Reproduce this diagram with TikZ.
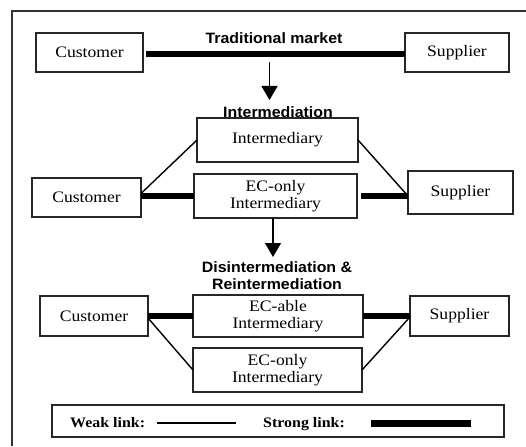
\documentclass[tikz,border=0pt]{standalone}
\usepackage{fontspec}
\setmainfont[FakeStretch=1.1]{Liberation Serif}
\newfontfamily\headfont[FakeStretch=1.06]{Liberation Sans}
\usetikzlibrary{arrows.meta}
\begin{document}
\begin{tikzpicture}[x=1pt,y=-1pt,
  box/.style={draw=black!85, line width=1.1pt, inner sep=0pt, outer sep=0pt,
    align=center, font=\fontsize{16}{17}\selectfont},
  head/.style={inner sep=0pt, align=center,
    font=\headfont\bfseries\fontsize{15}{16.5}\selectfont},
  legtext/.style={inner sep=0pt, font=\bfseries\fontsize{14.5}{16}\selectfont},
  weak/.style={line width=1.4pt},
  strong/.style={line width=5.5pt},
  flow/.style={line width=1.3pt, -{Triangle[width=16pt,length=14pt]}},
  frame/.style={draw=black!80, line width=1.3pt}]
\useasboundingbox (0,0) rectangle (526,446);

% outer frame (top and left edges)
\draw[frame] (12,446) -- (12,11) -- (526,11);

% --- traditional market ---
\node[box, minimum width=107pt, minimum height=39pt] (c1) at (89.5,52.5) {Customer};
\node[box, minimum width=104pt, minimum height=39pt] (s1) at (457,52.5) {Supplier};
\node[head] (hTrad) at (274,38) {Traditional market};
\draw[strong] ([xshift=3pt,yshift=-1.5pt]c1.east) -- ([yshift=-1.5pt]s1.west);

\coordinate (a1s) at (269.5,62);
\coordinate (a1e) at (269.5,100);
\draw[flow] (a1s) -- (a1e);

% --- intermediation ---
\node[head] (hInter) at (278,112) {Intermediation};
\node[box, minimum width=161pt, minimum height=44pt] (i2) at (277.5,140) {Intermediary};
\node[box, minimum width=109pt, minimum height=39pt] (c2) at (86.5,197.5) {Customer};
\node[box, minimum width=163pt, minimum height=44pt] (e2) at (275.5,196) {EC-only\\Intermediary};
\node[box, minimum width=105pt, minimum height=43pt] (s2) at (460.5,192.5) {Supplier};

\draw[weak] ([yshift=4pt]c2.east) -- (i2.west);
\draw[weak] (i2.east) -- ([yshift=-3.5pt]s2.west);
\draw[strong] ([yshift=1.5pt]c2.east) -- ([yshift=1.5pt]c2.east -| e2.west);
\draw[strong] ([xshift=4pt]e2.east) -- (e2.east -| s2.west);

\coordinate (a2e) at (273,257);
\draw[flow] (e2.south -| a2e) -- (a2e);

% --- disintermediation & reintermediation ---
\node[head] (hDis) at (277,275.5) {Disintermediation \&\\Reintermediation};
\node[box, minimum width=108pt, minimum height=40pt] (c3) at (94,316) {Customer};
\node[box, minimum width=170pt, minimum height=42pt] (a3) at (278,316) {EC-able\\Intermediary};
\node[box, minimum width=99pt, minimum height=40pt] (s3) at (459.5,316) {Supplier};
\node[box, minimum width=169pt, minimum height=44pt] (e3) at (277.5,370) {EC-only\\Intermediary};

\draw[strong] (c3.east) -- (a3.west);
\draw[strong] (a3.east) -- (s3.west);
\draw[weak] ([yshift=-2pt]c3.east) -- (e3.west);
\draw[weak] (e3.east) -- ([yshift=-1pt]s3.west);

% --- legend ---
\node[box, minimum width=452pt, minimum height=32pt] (leg) at (278,421) {};
\node[legtext, anchor=base west] (wl) at (70,427) {Weak link:};
\coordinate (wa) at (157,423);
\coordinate (wb) at (236,423);
\draw[weak] (wa) -- (wb);
\node[legtext, anchor=base west] (sl) at (263,427) {Strong link:};
\coordinate (sa) at (371,423);
\coordinate (sb) at (471,423);
\draw[line width=7pt] (sa) -- (sb);
\end{tikzpicture}
\end{document}
